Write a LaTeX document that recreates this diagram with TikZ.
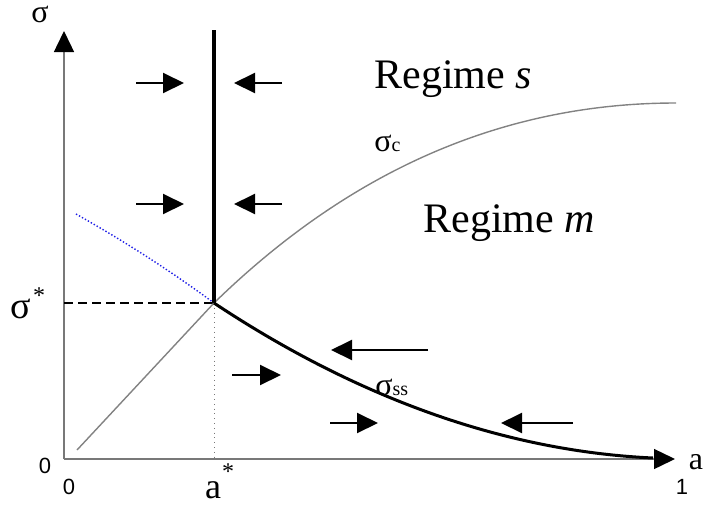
\documentclass[tikz,border=0pt]{standalone}
\usepackage{fontspec}
\setmainfont{Liberation Serif}
\setsansfont{Liberation Sans}
\usepackage{tikz}
\usetikzlibrary{arrows.meta, positioning, calc}
\definecolor{axisgray}{RGB}{120,120,120}
\definecolor{curvegray}{RGB}{130,130,130}
\definecolor{dotblue}{RGB}{30,30,230}
\tikzset{
  axis/.style={draw=axisgray, line width=0.7pt,
    -{Triangle[length=10.5pt, width=10pt, color=black]}},
  flow/.style={line width=1pt, -{Triangle[length=10.5pt, width=10pt]}},
  thickline/.style={line width=1.8pt},
  lbl/.style={inner sep=0pt, font=\fontsize{16}{18}\selectfont},
  num/.style={inner sep=0pt, font=\sffamily\fontsize{11}{12}\selectfont},
  regime/.style={inner sep=0pt, anchor=base west, font=\fontsize{21}{24}\selectfont}
}
\newcommand{\subtxt}[1]{{\fontsize{10}{10}\selectfont #1}}

\begin{document}
\begin{tikzpicture}[x=0.5pt, y=-0.5pt]
  \useasboundingbox (0,0) rectangle (706,509);

  % Key points
  \coordinate (O) at (64,459);
  \coordinate (ytop) at (64,31);
  \coordinate (xend) at (675,459);
  \coordinate (crit) at (214,303);
  \coordinate (wall) at (214,30);

  % Axes
  \draw[axis] (O) -- (ytop);
  \draw[axis] (O) -- (xend);

  % Guides to the critical point
  \draw[line width=0.8pt, dash pattern=on 4.5pt off 2.5pt] (O |- crit) -- (crit);
  \draw[axisgray, line width=0.4pt, dotted] (crit) -- (crit |- O);
  \draw[dotblue, line width=0.7pt, dash pattern=on 0.7pt off 1pt]
    (76,214) .. controls (122,240) and (168,269) .. (crit);

  % sigma_c curve
  \draw[curvegray, line width=0.7pt] (77,450) -- (crit)
    .. controls (330,190) and (480,103) .. (676,103);

  % Wall and sigma_ss curve
  \draw[thickline] (wall) -- (crit);
  \draw[line width=1.5pt] (crit) .. controls (330,380) and (480,450) .. (653,458);

  % Flow arrows
  \draw[flow] (136,83) -- (184,83);
  \draw[flow] (282,83) -- (234,83);
  \draw[flow] (136,204) -- (184,204);
  \draw[flow] (282,204) -- (234,204);
  \draw[flow] (232,375) -- (281,375);
  \draw[flow] (428,350) -- (331,350);
  \draw[flow] (330,423) -- (378,423);
  \draw[flow] (573,423) -- (501,423);

  % Axis labels
  \node[lbl] (ylab) at (40,14) {σ};
  \node[lbl, font=\fontsize{19}{20}\selectfont] (sstar) at (21,309) {σ};
  \node[lbl, font=\fontsize{12}{12}\selectfont] (sstarx) at (39,296) {*};
  \node[num] (zeroy) at (45,466) {0};
  \node[num] (zerox) at (69,487) {0};
  \node[num] (onex) at (682,487) {1};
  \node[lbl] (xlab) at (696,462) {a};
  \node[lbl, font=\fontsize{18}{20}\selectfont] (astar) at (213,490) {a};
  \node[lbl, font=\fontsize{12}{12}\selectfont] (astarx) at (228,472) {*};

  % Curve and regime labels
  \node[lbl, anchor=base west] (sc) at (374,151) {σ\subtxt{c}};
  \node[lbl, anchor=base west] (sss) at (375,395) {σ\subtxt{ss}};
  \node[regime] (regs) at (374,88) {Regime \textit{s}};
  \node[regime] (regm) at (423,232) {Regime \textit{m}};
\end{tikzpicture}
\end{document}
